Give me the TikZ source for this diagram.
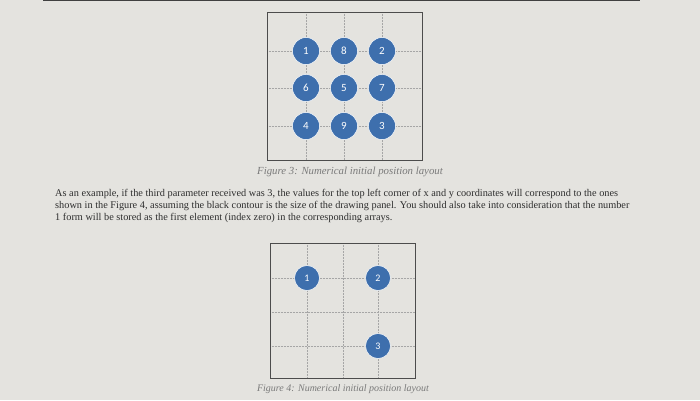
\documentclass[tikz,border=0pt]{standalone}
\usepackage{fontspec}
\setmainfont{Liberation Serif}
\newfontfamily\numfont{Carlito}
\usepackage{tikz}
\usetikzlibrary{positioning}
\definecolor{paper}{HTML}{E4E3DF}
\definecolor{dot}{HTML}{3E6FAD}
\definecolor{ink}{HTML}{2E2E2E}
\definecolor{capgray}{HTML}{7A7A7A}

\begin{document}
\begin{tikzpicture}[
x=1pt,y=-1pt,
ball/.style={
	circle,
	fill=dot,
	draw=white,
	line width=0.5pt,
	minimum size=27pt,
	inner sep=0pt,
	text=white,
	font=\numfont\fontsize{11}{11}\selectfont
},
smallball/.style={
	ball,
	minimum size=25pt,
	font=\numfont\fontsize{10}{10}\selectfont
},
panel/.style={
	draw=black!70,
	line width=0.6pt
},
guide/.style={
	draw=black!35,
	densely dotted,
	line width=0.5pt
},
caption/.style={
	text=capgray,
	font=\fontsize{10.8}{12}\selectfont\itshape
}
]
\useasboundingbox (0,0) rectangle (700,400);
\fill[paper] (0,0) rectangle (700,400);
\draw[black!75,line width=2pt] (43,0) -- (640,0);

% first panel
\draw[guide] (306,12) -- (306,160) (344,12) -- (344,160) (382,12) -- (382,160);
\draw[guide] (267,51) -- (422,51) (267,88) -- (422,88) (267,126) -- (422,126);
\draw[panel] (267,12) rectangle (422,160);
\node[ball] (b1) at (306,51) {1};
\node[ball] (b8) at (344,51) {8};
\node[ball] (b2) at (382,51) {2};
\node[ball] (b6) at (306,88) {6};
\node[ball] (b5) at (344,88) {5};
\node[ball] (b7) at (382,88) {7};
\node[ball] (b4) at (306,126) {4};
\node[ball] (b9) at (344,126) {9};
\node[ball] (b3) at (382,126) {3};
\node[caption] (cap3) at (350,172) {Figure 3: Numerical initial position layout};

\node[text=ink,align=left,anchor=north west,inner sep=0pt,
	font=\fontsize{10.3}{12}\selectfont] (para) at (55,189)
{As an example, if the third parameter received was 3, the values for the top left corner of x and y coordinates will correspond to the ones\\
shown in the Figure 4, assuming the black contour is the size of the drawing panel. You should also take into consideration that the number\\
1 form will be stored as the first element (index zero) in the corresponding arrays.};

% second panel
\draw[guide] (307,243) -- (307,378) (343,243) -- (343,378) (378,243) -- (378,378);
\draw[guide] (270,278) -- (415,278) (270,312) -- (415,312) (270,346) -- (415,346);
\draw[panel] (270,243) rectangle (415,378);
\node[smallball] (c1) at (307,278) {1};
\node[smallball] (c2) at (378,278) {2};
\node[smallball] (c3) at (378,346) {3};
\node[caption,font=\fontsize{10}{12}\selectfont\itshape] (cap4) at (343,389) {Figure 4: Numerical initial position layout};

\end{tikzpicture}
\end{document}
